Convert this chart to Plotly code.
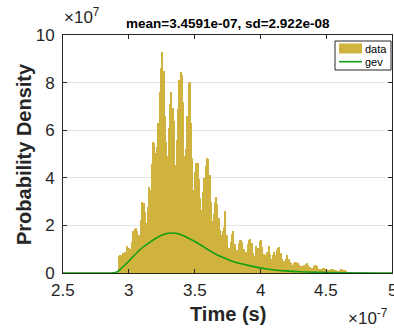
import plotly.graph_objects as go

# ---------------- data (time in units of 1e-7 s, density in units of 1e7) ----------------
BIN_START = 2.92      # left edge of first bin (x1e-7 s)
BIN_WIDTH = 0.01      # bin width (x1e-7 s)
hist_density = [
    0.73, 0.77, 0.75, 0.85, 0.78, 0.90, 1.14, 1.05, 1.06, 1.00,
    1.30, 1.77, 1.85, 1.90, 1.75, 1.60, 1.33, 2.23, 3.00, 2.95,
    2.55, 2.10, 2.79, 3.60, 3.50, 4.60, 5.50, 5.45, 5.05, 5.30,
    6.30, 7.60, 8.60, 9.29, 8.50, 6.60, 5.50, 4.90, 6.10, 7.10,
    7.59, 6.95, 6.40, 4.54, 5.60, 6.90, 8.10, 8.45, 8.30, 7.20,
    4.90, 5.20, 6.60, 7.97, 8.03, 6.30, 4.82, 3.49, 4.26, 4.61,
    4.64, 3.95, 3.14, 2.65, 3.40, 3.98, 4.50, 4.82, 4.78, 4.10,
    3.00, 2.20, 2.50, 3.00, 3.19, 2.90, 2.30, 1.80, 1.60, 1.75,
    1.95, 2.62, 1.60, 0.85, 1.05, 1.30, 1.65, 1.75, 1.20, 0.85,
    0.95, 1.25, 1.38, 1.40, 1.30, 1.00, 0.80, 0.90, 1.20, 1.40,
    1.43, 1.25, 0.85, 0.72, 1.15, 1.00, 1.05, 1.35, 1.40, 1.10,
    0.80, 0.72, 0.75, 0.90, 1.12, 0.80, 0.60, 0.75, 0.90, 0.75,
    0.95, 1.05, 1.10, 0.85, 0.58, 0.50, 0.50, 0.58, 0.75, 0.60,
    0.45, 0.40, 0.35, 0.42, 0.48, 0.48, 0.42, 0.32, 0.28, 0.28,
    0.28, 0.33, 0.38, 0.40, 0.35, 0.25, 0.21, 0.22, 0.28, 0.33,
    0.35, 0.28, 0.18, 0.15, 0.16, 0.19, 0.21, 0.17, 0.14, 0.13,
    0.13, 0.15, 0.18, 0.16, 0.14, 0.11, 0.10, 0.10, 0.12, 0.15,
    0.15, 0.13, 0.11, 0.07,
]

gev_time = [2.50, 2.82, 2.872, 2.91, 2.948, 2.986, 3.024, 3.10, 3.176, 3.252,
            3.326, 3.389, 3.45, 3.541, 3.602, 3.668, 3.739, 3.792, 3.921,
            4.05, 4.187, 4.301, 4.529, 5.00]
gev_density = [0.0, 0.0, 0.003, 0.04, 0.22, 0.42, 0.64, 1.05, 1.35, 1.60,
               1.68, 1.63, 1.47, 1.20, 0.98, 0.77, 0.60, 0.48, 0.30,
               0.17, 0.09, 0.05, 0.02, 0.0]

x_ticks = [2.5, 3, 3.5, 4, 4.5, 5]
x_ticklabels = ["2.5", "3", "3.5", "4", "4.5", "5"]
y_ticks = [0, 2, 4, 6, 8, 10]
y_ticklabels = ["0", "2", "4", "6", "8", "10"]

title_text = "mean=3.4591e-07, sd=2.922e-08"
x_title = "Time (s)"
y_title = "Probability Density"
legend_labels = ["data", "gev"]

# ---------------- styling ----------------
W, H = 394, 329
L, R, T, B = 63, 392, 35, 273          # plot area in pixels
BAR_COLOR = "#D0B33F"
GEV_COLOR = "#119E11"
AX_COLOR = "#262626"
FONT = "Liberation Sans, Arial, Helvetica, sans-serif"


def px(xpix):
    return (xpix - L) / (R - L)


def py(ypix):
    return (B - ypix) / (B - T)


bin_centers = [BIN_START + BIN_WIDTH * (i + 0.5) for i in range(len(hist_density))]

fig = go.Figure()
fig.add_trace(go.Bar(
    x=bin_centers, y=hist_density, width=BIN_WIDTH,
    marker=dict(color=BAR_COLOR, line=dict(width=0)),
    name=legend_labels[0], showlegend=False,
))
fig.add_trace(go.Scatter(
    x=gev_time, y=gev_density, mode="lines", line_shape="spline",
    line=dict(color=GEV_COLOR, width=1.6),
    name=legend_labels[1], showlegend=False,
))

axis_common = dict(
    showline=True, linecolor=AX_COLOR, linewidth=1, mirror="ticks",
    ticks="inside", ticklen=4, tickcolor=AX_COLOR, tickwidth=1,
    tickfont=dict(family=FONT, size=17, color=AX_COLOR),
    zeroline=False, automargin=False,
)

# the last x tick label ("5") sits on the right edge of the page; plotly hides
# labels that overflow, so the ticks keep their marks and the labels are drawn
# as annotations at the tick positions.
fig.update_layout(
    width=W, height=H,
    margin=dict(l=L, r=W - R, t=T, b=H - B, pad=0),
    paper_bgcolor="white", plot_bgcolor="white",
    bargap=0,
    showlegend=False,
    xaxis=dict(range=[2.5, 5], tickvals=x_ticks, ticktext=x_ticklabels,
               showticklabels=False, showgrid=False, **axis_common),
    yaxis=dict(range=[0, 10], tickvals=y_ticks, ticktext=y_ticklabels,
               showgrid=True, gridcolor="#E3E3E3", gridwidth=1,
               ticklabelstandoff=4, **axis_common),
)

annotations = [
    dict(text=lab, x=v, xref="x", y=py(290), yref="paper",
         xanchor="center", yanchor="middle",
         font=dict(family=FONT, size=17, color=AX_COLOR))
    for v, lab in zip(x_ticks, x_ticklabels)
]
extra = [
    dict(text="<b>" + title_text + "</b>", x=px((L + R) / 2), y=py(24),
         xanchor="center", yanchor="middle",
         font=dict(family=FONT, size=13.5, color="black")),
    dict(text="<b>" + x_title + "</b>", x=px(228), y=py(314),
         xanchor="center", yanchor="middle",
         font=dict(family=FONT, size=20, color=AX_COLOR)),
    dict(text="<b>" + y_title + "</b>", x=px(24), y=py(154), textangle=-90,
         xanchor="center", yanchor="middle",
         font=dict(family=FONT, size=20, color=AX_COLOR)),
    dict(text="×10<sup>7</sup>", x=px(62), y=py(16),
         xanchor="left", yanchor="middle",
         font=dict(family=FONT, size=17, color=AX_COLOR)),
    dict(text="×10<sup>-7</sup>", x=px(346), y=py(317),
         xanchor="left", yanchor="middle",
         font=dict(family=FONT, size=17, color=AX_COLOR)),
    dict(text=legend_labels[0], x=px(363), y=py(48.5),
         xanchor="left", yanchor="middle",
         font=dict(family=FONT, size=11, color="black")),
    dict(text=legend_labels[1], x=px(363), y=py(62),
         xanchor="left", yanchor="middle",
         font=dict(family=FONT, size=11, color="black")),
]
for a in extra:
    a.update(xref="paper", yref="paper")
annotations += extra
for a in annotations:
    a.update(showarrow=False)
fig.update_layout(annotations=annotations)

shapes = [
    dict(type="rect", x0=px(335), x1=px(391), y0=py(70), y1=py(41),
         line=dict(color=AX_COLOR, width=1), fillcolor="white"),
    dict(type="rect", x0=px(339), x1=px(362), y0=py(53.5), y1=py(43.5),
         line=dict(width=0), fillcolor=BAR_COLOR),
    dict(type="line", x0=px(339), x1=px(362), y0=py(61.7), y1=py(61.7),
         line=dict(color=GEV_COLOR, width=1.6)),
]
for s in shapes:
    s.update(xref="paper", yref="paper", layer="above")
fig.update_layout(shapes=shapes)

fig.write_html("out.html")
